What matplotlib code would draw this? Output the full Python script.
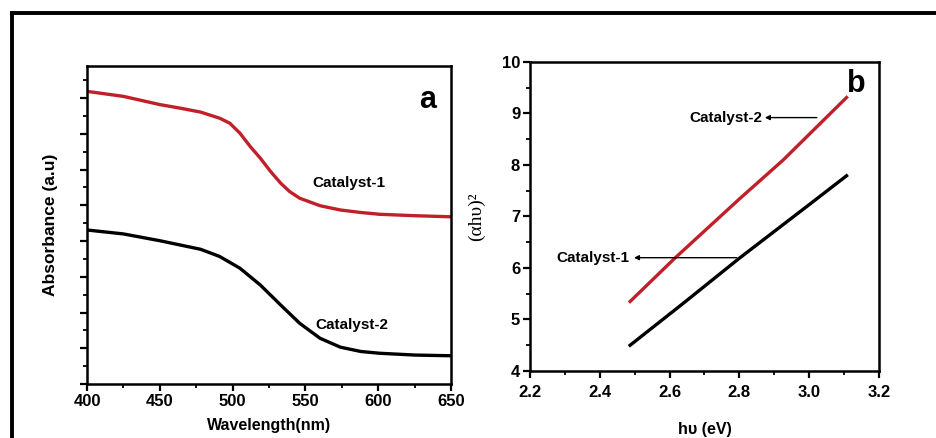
import matplotlib
matplotlib.use("Agg")
import matplotlib.pyplot as plt
from matplotlib.lines import Line2D
from matplotlib.ticker import MultipleLocator, NullFormatter

plt.rcParams['font.family'] = ['Liberation Sans', 'DejaVu Sans']

# panel a: absorbance spectra (arbitrary units)
wl_cat1 = [400, 425, 450, 464, 478, 491, 498, 505, 512, 519, 526, 533, 539, 546, 560, 574, 588, 601, 625, 650]
absorb_cat1 = [8.19, 8.05, 7.82, 7.72, 7.61, 7.44, 7.30, 7.02, 6.65, 6.32, 5.95, 5.62, 5.39, 5.20,
               4.99, 4.87, 4.80, 4.75, 4.71, 4.68]
wl_cat2 = [400, 425, 450, 478, 491, 505, 519, 533, 546, 560, 574, 588, 601, 625, 650]
absorb_cat2 = [4.31, 4.20, 4.01, 3.77, 3.57, 3.24, 2.77, 2.21, 1.70, 1.28, 1.03, 0.91, 0.86, 0.81, 0.79]

# panel b: Tauc plot
hv_cat1 = [2.487, 2.644, 2.8, 3.0, 3.107]
tauc_cat1 = [4.50, 5.34, 6.19, 7.23, 7.79]
hv_cat2 = [2.487, 2.615, 2.8, 2.926, 3.107]
tauc_cat2 = [5.35, 6.19, 7.34, 8.10, 9.31]

red = '#c0202a'
tick_fs = 12

fig = plt.figure(figsize=(9.37, 4.38), dpi=100)

# outer frame (left and top only)
x0 = 12 / 937
y0 = 1 - 13 / 438
fig.add_artist(Line2D([x0, x0], [0, y0], transform=fig.transFigure, color='black', lw=2.8))
fig.add_artist(Line2D([x0, 1], [y0, y0], transform=fig.transFigure, color='black', lw=2.8))

ax1 = fig.add_axes([0.0929, 0.1233, 0.3885, 0.726])
ax2 = fig.add_axes([0.5656, 0.1530, 0.3725, 0.7055])

for ax in (ax1, ax2):
    for s in ax.spines.values():
        s.set_linewidth(1.8)
    ax.tick_params(which='major', direction='out', length=5, width=1.6)
    ax.tick_params(which='minor', direction='out', length=3, width=1.3)
    ax.tick_params(axis='both', labelsize=tick_fs, pad=2)
ax2.tick_params(axis='x', pad=5)

# ---- panel a
ax1.plot(wl_cat1, absorb_cat1, color=red, lw=2.4)
ax1.plot(wl_cat2, absorb_cat2, color='black', lw=2.4)
ax1.set_xlim(400, 650)
ax1.set_ylim(0, 8.9)
ax1.set_xticks([400, 450, 500, 550, 600, 650])
ax1.set_xticklabels(['400', '450', '500', '550', '600', '650'], fontweight='bold')
ax1.xaxis.set_minor_locator(MultipleLocator(25))
ax1.yaxis.set_major_locator(MultipleLocator(1))
ax1.yaxis.set_minor_locator(MultipleLocator(0.5))
ax1.yaxis.set_major_formatter(NullFormatter())
ax1.set_xlabel('Wavelength(nm)', fontsize=11.5, fontweight='bold', labelpad=7)
ax1.set_ylabel('Absorbance (a.u)', fontsize=12.5, fontweight='bold', labelpad=14)
ax1.text(580, 5.63, 'Catalyst-1', fontsize=11, fontweight='bold', ha='center', va='center')
ax1.text(582, 1.64, 'Catalyst-2', fontsize=11, fontweight='bold', ha='center', va='center')
ax1.text(634, 7.95, 'a', fontsize=22, fontweight='bold', ha='center', va='center')

# ---- panel b
ax2.plot(hv_cat2, tauc_cat2, color=red, lw=2.4)
ax2.plot(hv_cat1, tauc_cat1, color='black', lw=2.4)
ax2.set_xlim(2.2, 3.2)
ax2.set_ylim(4, 10)
ax2.set_xticks([2.2, 2.4, 2.6, 2.8, 3.0, 3.2])
ax2.set_xticklabels(['2.2', '2.4', '2.6', '2.8', '3.0', '3.2'], fontweight='bold')
ax2.xaxis.set_minor_locator(MultipleLocator(0.1))
ax2.set_yticks(range(4, 11))
ax2.set_yticklabels([str(v) for v in range(4, 11)], fontweight='bold')
ax2.yaxis.set_minor_locator(MultipleLocator(0.5))
ax2.set_xlabel('h\u03c5 (eV)', fontsize=11.5, fontweight='bold', labelpad=16)
ax2.set_ylabel('(\u03b1h\u03c5)\u00b2', fontsize=14, family=['Liberation Serif', 'DejaVu Serif'], labelpad=12)

ax2.annotate('', xy=(2.865, 8.92), xytext=(3.03, 8.92),
             arrowprops=dict(arrowstyle='-|>', color='black', lw=1.0, mutation_scale=7))
ax2.text(2.865, 8.92, 'Catalyst-2', fontsize=11, fontweight='bold', ha='right', va='center')
ax2.annotate('', xy=(2.49, 6.2), xytext=(2.8, 6.2),
             arrowprops=dict(arrowstyle='-|>', color='black', lw=1.0, mutation_scale=7))
ax2.text(2.485, 6.2, 'Catalyst-1', fontsize=11, fontweight='bold', ha='right', va='center')
ax2.text(3.135, 9.57, 'b', fontsize=22, fontweight='bold', ha='center', va='center')

fig.savefig('out.png', dpi=100)
